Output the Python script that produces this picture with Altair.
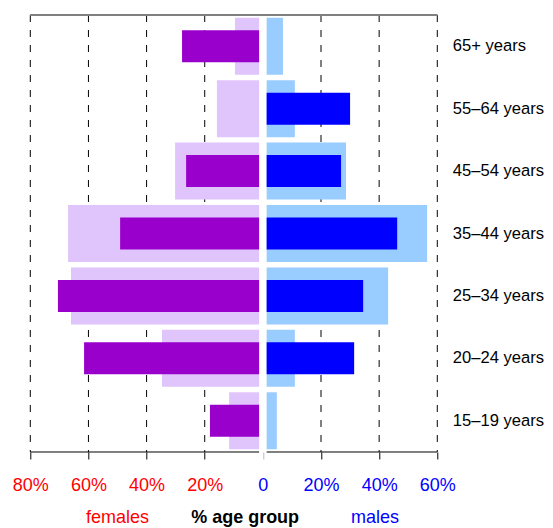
import altair as alt
import pandas as pd

# ---- data (top-to-bottom order) ----
age_groups = ["65+ years", "55–64 years", "45–54 years", "35–44 years",
              "25–34 years", "20–24 years", "15–19 years"]
females_light = [8.3, 14.5, 28.9, 65.7, 64.7, 33.4, 10.3]
females_dark = [26.5, 0.0, 25.1, 47.8, 69.2, 60.2, 16.9]
males_light = [5.6, 9.7, 27.3, 55.2, 41.8, 9.7, 3.5]
males_dark = [0.0, 28.7, 25.6, 44.9, 33.2, 30.1, 0.0]

tick_values = [-80, -60, -40, -20, 0, 20, 40, 60]
grid_values = [-80, -60, -40, -20, 20, 40, 60]
bottom_labels = ["females", "% age group", "males"]
bottom_label_pos = [-50, -6.1, 38.6]
bottom_label_colors = ["#ff0000", "#000000", "#0000ff"]

GAP = 1.3
FONT = "Liberation Sans"
FS = 18
FS_AGE = 16.6
W, H = 407, 437

rows_light, rows_dark = [], []
for i, a in enumerate(age_groups):
    rows_light.append(dict(age=a, x0=-GAP - females_light[i], x1=-GAP, color="#e0c4fc"))
    rows_light.append(dict(age=a, x0=GAP, x1=GAP + males_light[i], color="#99ccff"))
    if females_dark[i] > 0:
        rows_dark.append(dict(age=a, x0=-GAP - females_dark[i], x1=-GAP, color="#9900cc"))
    if males_dark[i] > 0:
        rows_dark.append(dict(age=a, x0=GAP, x1=GAP + males_dark[i], color="#0000ff"))
df_light = pd.DataFrame(rows_light)
df_dark = pd.DataFrame(rows_dark)
df_grid = pd.DataFrame({"v": grid_values})
df_base = pd.DataFrame({"a": [-80, GAP], "b": [-GAP, 60]})
df_lab = pd.DataFrame({"label": bottom_labels, "pos": bottom_label_pos,
                       "color": bottom_label_colors})

xscale = alt.Scale(domain=[-80, 60], nice=False, zero=False)
xaxis = alt.Axis(values=tick_values, title=None, grid=False, domain=False,
                 labelExpr="datum.value == 0 ? '0' : abs(datum.value) + '%'",
                 labelColor=alt.condition("datum.value < 0", alt.value("#ff0000"), alt.value("#0000ff")),
                 tickColor=alt.condition("datum.value == 0", alt.value("#bbbbbb"), alt.value("#000000")),
                 tickSize=7, labelPadding=31.7, labelBaseline="alphabetic",
                 labelFont=FONT, labelFontSize=FS, labelFlush=False)
yscale = alt.Scale(domain=age_groups, paddingInner=0.087, paddingOuter=0.0435)
yaxis = alt.Axis(orient="right", title=None, ticks=False, domain=False,
                 labelPadding=15, labelFont=FONT, labelFontSize=FS_AGE,
                 labelColor="#000000", labelLimit=200)

grid = alt.Chart(df_grid).mark_rule(color="#000000", strokeWidth=1, strokeDash=[7, 8]).encode(
    x=alt.X("v:Q", scale=xscale, axis=xaxis)
)
light = alt.Chart(df_light).mark_bar().encode(
    x=alt.X("x0:Q", scale=xscale, axis=xaxis),
    x2="x1:Q",
    y=alt.Y("age:N", scale=yscale, sort=age_groups, axis=yaxis),
    color=alt.Color("color:N", scale=None),
)
dark = alt.Chart(df_dark).mark_bar(size=32).encode(
    x=alt.X("x0:Q", scale=xscale, axis=xaxis),
    x2="x1:Q",
    y=alt.Y("age:N", scale=yscale, sort=age_groups, axis=yaxis),
    color=alt.Color("color:N", scale=None),
)
base_line = alt.Chart(df_base).mark_rule(color="#000000", strokeWidth=1).encode(
    x=alt.X("a:Q", scale=xscale, axis=xaxis), x2="b:Q", y=alt.value(H)
)
top_line = alt.Chart(df_base).mark_rule(color="#808080", strokeWidth=2).encode(
    x=alt.datum(-80, scale=xscale), x2=alt.datum(60), y=alt.value(0)
)
labs_normal = alt.Chart(df_lab[df_lab["label"] != "% age group"]).mark_text(
    font=FONT, fontSize=FS, baseline="alphabetic", align="center").encode(
    x=alt.X("pos:Q", scale=xscale, axis=xaxis), y=alt.value(508.3),
    text="label:N", color=alt.Color("color:N", scale=None)
)
labs_bold = alt.Chart(df_lab[df_lab["label"] == "% age group"]).mark_text(
    font=FONT, fontSize=FS, fontWeight="bold", baseline="alphabetic", align="center").encode(
    x=alt.X("pos:Q", scale=xscale, axis=xaxis), y=alt.value(508.3),
    text="label:N", color=alt.Color("color:N", scale=None)
)

chart = alt.layer(grid, light, dark, base_line, top_line, labs_normal, labs_bold).properties(
    width=W, height=H,
    autosize=alt.AutoSizeParams(type="none"),
    padding={"left": 22.3, "top": 7, "right": 107.6, "bottom": 76},
    background="white",
).configure_view(stroke=None)

chart.save("out.html", embed_options={"renderer": "svg", "actions": False})
